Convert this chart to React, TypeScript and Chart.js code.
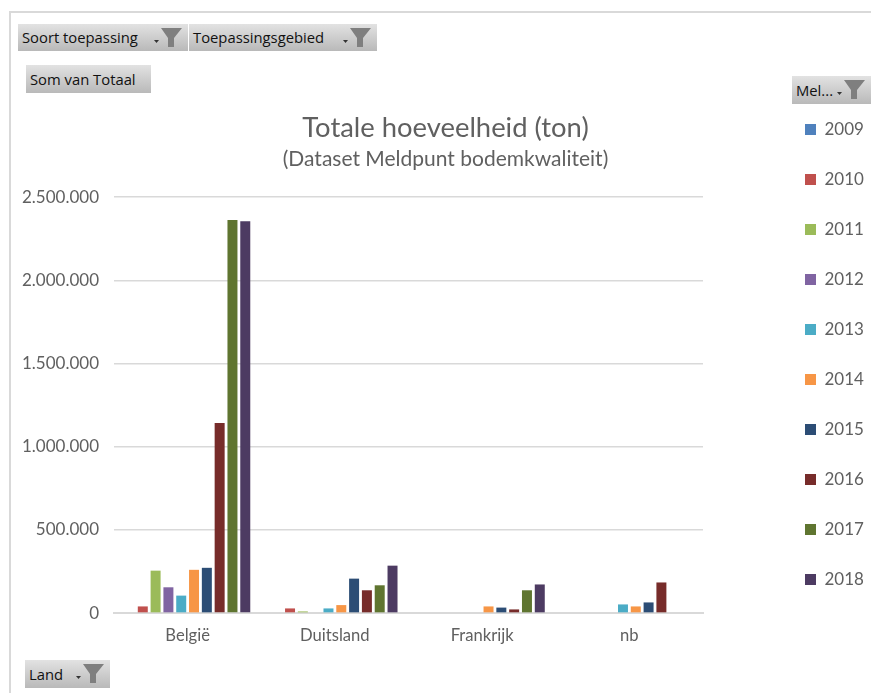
import React, { useEffect, useRef } from "react";
import { Chart, registerables } from "chart.js";

Chart.register(...registerables);

const countries = ["België", "Duitsland", "Frankrijk", "nb"];
const years = ["2009", "2010", "2011", "2012", "2013", "2014", "2015", "2016", "2017", "2018"];
const v2009 = [null, null, null, null];
const v2010 = [40000, 28000, null, null];
const v2011 = [255000, 10000, null, null];
const v2012 = [155000, null, null, null];
const v2013 = [105000, 28000, null, 52000];
const v2014 = [260000, 48000, 40000, 40000];
const v2015 = [272000, 207000, 33000, 64000];
const v2016 = [1143000, 137000, 22000, 184000];
const v2017 = [2362000, 167000, 137000, null];
const v2018 = [2355000, 285000, 172000, null];
const seriesValues = [v2009, v2010, v2011, v2012, v2013, v2014, v2015, v2016, v2017, v2018];
const colours = ["#4F81BD", "#C0504D", "#9BBB59", "#8064A2", "#4BACC6", "#F79646", "#2C4D75", "#772C2A", "#5F7530", "#4D3B62"];

const titleText = "Totale hoeveelheid (ton)";
const subtitleText = "(Dataset Meldpunt bodemkwaliteit)";

const FONT = "Lato, 'Open Sans', sans-serif";
const TEXT = "#606060";

function Btn(p: { x: number; y: number; w: number; h: number; label: string; filter?: boolean }) {
  return (
    <div
      style={{
        position: "absolute",
        left: p.x,
        top: p.y,
        width: p.w,
        height: p.h,
        background: "linear-gradient(#e2e2e2, #b9b9b9)",
        fontFamily: "'Open Sans', sans-serif",
        fontSize: 14.8,
        lineHeight: p.h + "px",
        color: "#111",
        boxSizing: "border-box",
        paddingLeft: 4,
        whiteSpace: "nowrap",
        overflow: "hidden",
      }}
    >
      {p.label}
      {p.filter && (
        <svg width={34} height={24} style={{ position: "absolute", right: 5, top: 1 }}>
          <polygon points="5,15 10,15 7.5,18" fill="#333" />
          <polygon points="12,3 33,3 25,13 25,22 19,22 19,13" fill="#7f7f7f" />
        </svg>
      )}
    </div>
  );
}

const placeLegend = {
  id: "placeLegend",
  beforeLayout(chart: any) {
    const l = chart.legend;
    if (l && !l.__wrapped) {
      const fit = l.fit;
      l.fit = function () {
        fit.call(this);
        this.width = 168;
      };
      l.__wrapped = true;
    }
  },
  afterLayout(chart: any) {
    const l = chart.legend;
    l.left = 772;
    l.right = l.left + 100;
    l.top = 88;
    l.bottom = 640;
  },
};

export default function App() {
  const ref = useRef<HTMLCanvasElement>(null);
  useEffect(() => {
    const chart = new Chart(ref.current!, {
      type: "bar",
      data: {
        labels: countries,
        datasets: years.map((y, i) => ({
          label: y,
          data: seriesValues[i],
          backgroundColor: colours[i],
          categoryPercentage: 0.87,
          barPercentage: 0.78,
        })),
      },
      plugins: [placeLegend],
      options: {
        animation: false,
        responsive: false,
        layout: { padding: { left: 20, right: 0, top: 103, bottom: 42 } },
        plugins: {
          tooltip: { enabled: false },
          title: {
            display: true,
            text: titleText,
            color: TEXT,
            font: { family: FONT, size: 27.4, weight: "normal" },
            padding: { top: 9, bottom: 0 },
          },
          subtitle: {
            display: true,
            text: subtitleText,
            color: TEXT,
            font: { family: FONT, size: 21, weight: "normal" },
            padding: { top: 2, bottom: 25 },
          },
          legend: {
            display: true,
            position: "right",
            align: "start",
            labels: {
              boxWidth: 11,
              boxHeight: 11,
              padding: 33,
              color: TEXT,
              font: { family: FONT, size: 17 },
            },
          },
        },
        scales: {
          x: {
            grid: { display: false },
            border: { color: "#d9d9d9", width: 2 },
            ticks: { color: TEXT, font: { family: FONT, size: 16.6 }, padding: 5 },
          },
          y: {
            min: 0,
            max: 2500000,
            afterFit(s: any) {
              s.width = 94;
            },
            grid: { color: "#d9d9d9", lineWidth: 1.5, drawTicks: false },
            border: { display: false },
            ticks: {
              stepSize: 500000,
              color: TEXT,
              padding: 15,
              font: { family: FONT, size: 17 },
              callback: (v: any) => String(v).replace(/\B(?=(\d{3})+$)/g, "."),
            },
          },
        },
      },
    } as any);
    return () => chart.destroy();
  }, []);

  return (
    <div style={{ position: "absolute", left: 0, top: 0, width: 871, height: 693, overflow: "hidden", background: "#fff" }}>
      <div style={{ position: "absolute", left: 9, top: 11, width: 900, height: 800, border: "2px solid #d9d9d9" }} />
      <canvas ref={ref} width={871} height={693} style={{ position: "absolute", left: 0, top: 0 }} />
      <Btn x={18} y={24} w={170} h={27} label="Soort toepassing" filter />
      <Btn x={189} y={24} w={188} h={27} label="Toepassingsgebied" filter />
      <Btn x={26} y={65} w={125} h={28} label="Som van Totaal" />
      <Btn x={792} y={76} w={79} h={28} label="Mel..." filter />
      <Btn x={25} y={660} w={85} h={28} label="Land" filter />
    </div>
  );
}
